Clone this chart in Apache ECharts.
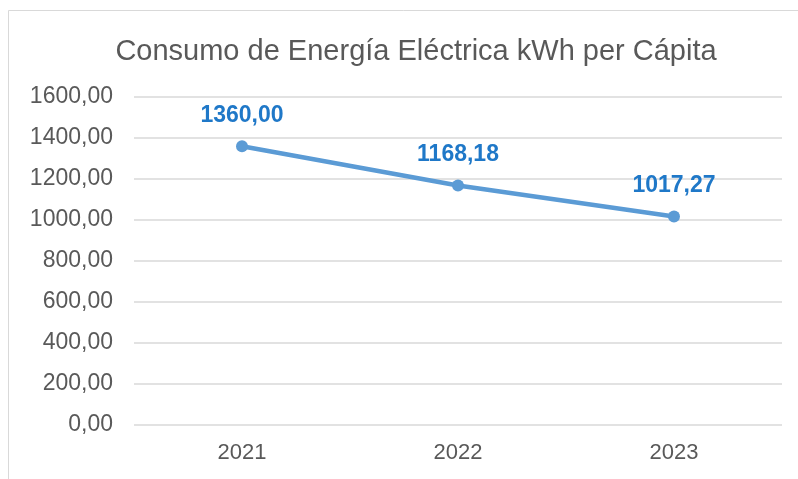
<!DOCTYPE html>
<html>
<head>
<meta charset="utf-8">
<script src="https://cdn.jsdelivr.net/npm/echarts@6/dist/echarts.min.js"></script>
<style>
  html, body { margin: 0; padding: 0; background: #fff; }
  #chart { width: 798px; height: 479px; }
</style>
</head>
<body>
<div id="chart"></div>
<script>
// Electric energy consumption per capita (kWh)
const years = ['2021', '2022', '2023'];
const consumo = [1360.00, 1168.18, 1017.27];
const yMin = 0;
const yMax = 1600;
const yStep = 200;

const fmt = v => Number(v).toFixed(2).replace('.', ',');
const FONT = '"Liberation Sans", Arial, sans-serif';

const chart = echarts.init(document.getElementById('chart'));
chart.setOption({
  backgroundColor: '#ffffff',
  animation: false,
  title: {
    text: 'Consumo de Energía Eléctrica kWh per Cápita',
    left: 411,
    textAlign: 'center',
    top: 32,
    textStyle: { fontFamily: FONT, fontSize: 29, fontWeight: 'normal', color: '#595959' }
  },
  graphic: [{
    type: 'rect',
    shape: { x: 8.5, y: 10.5, width: 830, height: 520 },
    style: { fill: 'none', stroke: '#D9D9D9', lineWidth: 1 },
    silent: true
  }],
  grid: { left: 134, right: 16, top: 97, bottom: 54 },
  xAxis: {
    type: 'category',
    data: years,
    boundaryGap: true,
    axisLine: { show: false },
    axisTick: { show: false },
    axisLabel: { fontFamily: FONT, fontSize: 22, color: '#595959', margin: 17 }
  },
  yAxis: {
    type: 'value',
    min: yMin,
    max: yMax,
    interval: yStep,
    axisLine: { show: false },
    axisTick: { show: false },
    splitLine: { lineStyle: { color: '#D9D9D9', width: 1.5 } },
    axisLabel: { fontFamily: FONT, fontSize: 23, color: '#595959', margin: 21, formatter: fmt }
  },
  series: [{
    type: 'line',
    data: consumo,
    symbol: 'circle',
    symbolSize: 12,
    lineStyle: { color: '#5B9BD5', width: 4.5 },
    itemStyle: { color: '#5B9BD5' },
    label: {
      show: true,
      position: 'top',
      distance: 13,
      formatter: p => fmt(p.value),
      fontFamily: FONT,
      fontSize: 23,
      fontWeight: 'bold',
      color: '#1F78C8'
    }
  }]
});
</script>
</body>
</html>
